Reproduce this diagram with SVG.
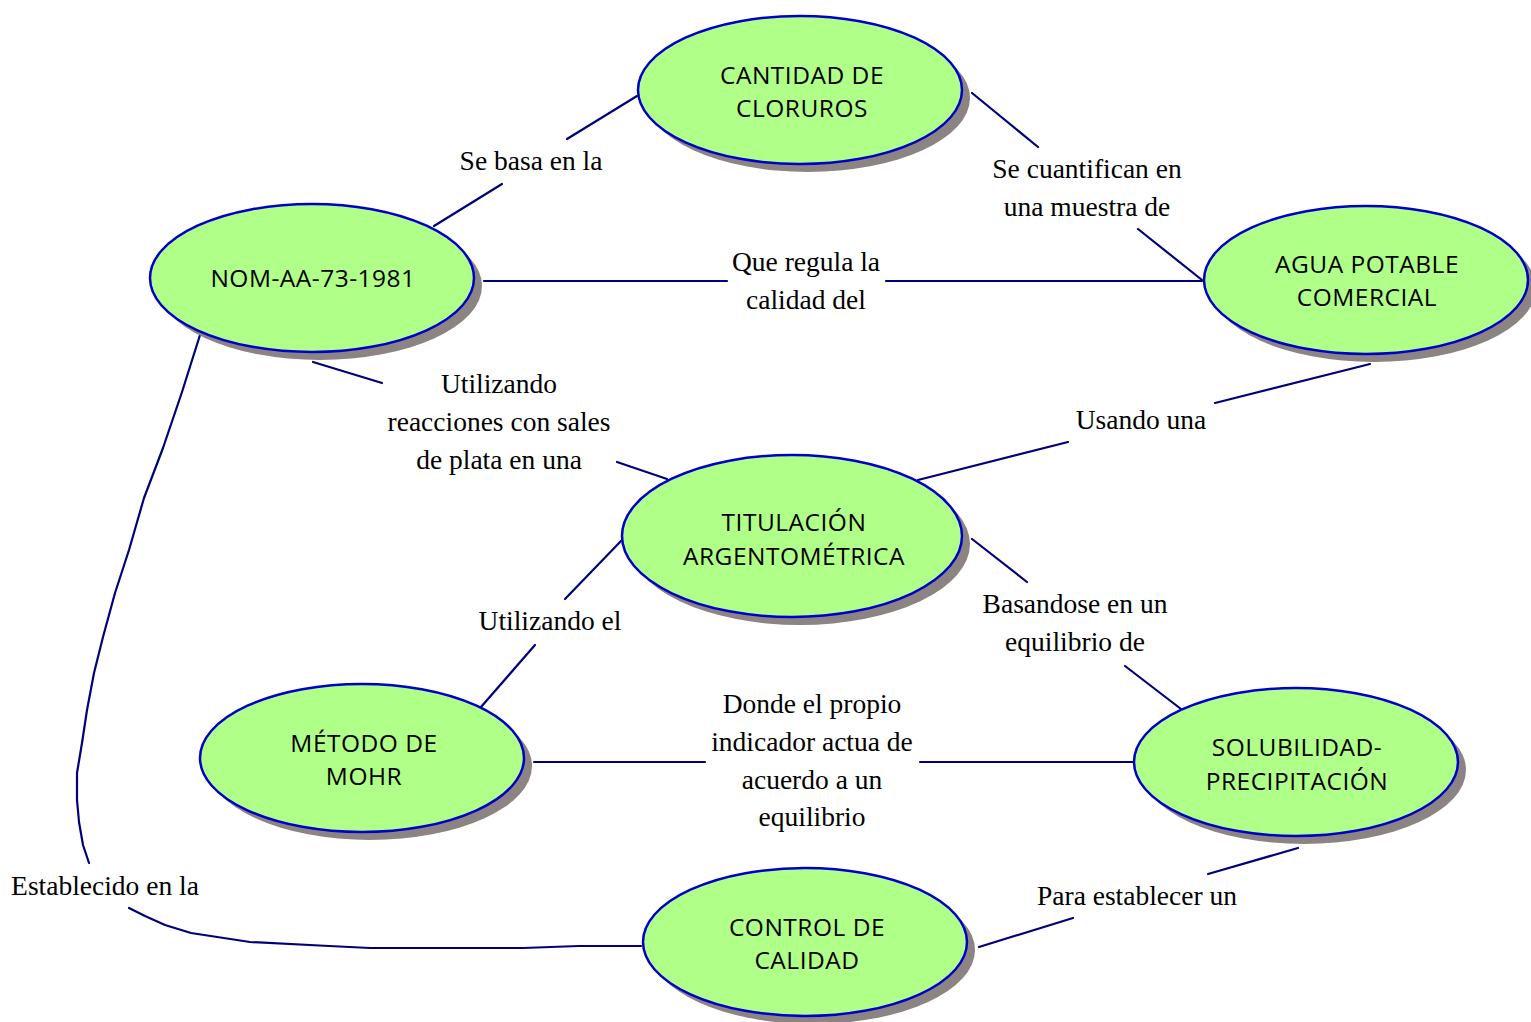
<svg xmlns="http://www.w3.org/2000/svg" width="1531" height="1022" viewBox="0 0 1531 1022">
  <style>
    .shadow { fill: #8c8383; }
    .node { fill: #b0ff88; stroke: #0000cc; stroke-width: 2.5; }
    .ntext { font-family: "Open Sans", "Noto Sans", sans-serif; font-size: 24.5px; letter-spacing: 0.5px; fill: #000; text-anchor: middle; }
    .link { fill: none; stroke: #00007a; stroke-width: 2.2; stroke-linecap: round; stroke-linejoin: round; }
    .label { font-family: "Liberation Serif", "Times New Roman", serif; font-size: 27.5px; fill: #000; text-anchor: middle; }
  </style>

  <!-- connectors, split around their labels -->
  <g id="connectors">
    <polyline class="link" points="434,226 502,184"/>
    <polyline class="link" points="567,139 637,96"/>
    <polyline class="link" points="972,93 1038,147"/>
    <polyline class="link" points="1138,229 1202,280"/>
    <polyline class="link" points="484,281 727,281"/>
    <polyline class="link" points="886,281 1202,281"/>
    <polyline class="link" points="313,362 382,383"/>
    <polyline class="link" points="617,462 667,479"/>
    <polyline class="link" points="1370,364 1215,403"/>
    <polyline class="link" points="1068,442 918,480"/>
    <polyline class="link" points="621,541 565,599"/>
    <polyline class="link" points="535,645 481,707"/>
    <polyline class="link" points="972,539 1027,582"/>
    <polyline class="link" points="1125,666 1181,709"/>
    <polyline class="link" points="534,762 705,762"/>
    <polyline class="link" points="920,762 1133,762"/>
    <polyline class="link" points="1298,848 1208,874"/>
    <polyline class="link" points="1073,918 979,947"/>
    <polyline class="link" points="200,335 182,392 163,448 144,498 129,550 115,593 103,637 94,673 87,710 82,743 77,773 77,800 79,822 83,845 89,863"/>
    <polyline class="link" points="129,908 145,916 165,925 191,933 250,942 329,946 370,948 523,948 579,946 641,946"/>
  </g>

  <!-- connector labels -->
  <g id="labels">
    <text class="label" x="531" y="170">Se basa en la</text>
    <text class="label" x="1087" y="178">Se cuantifican en</text>
    <text class="label" x="1087" y="216">una muestra de</text>
    <text class="label" x="806" y="271">Que regula la</text>
    <text class="label" x="806" y="309">calidad del</text>
    <text class="label" x="499" y="393">Utilizando</text>
    <text class="label" x="499" y="431">reacciones con sales</text>
    <text class="label" x="499" y="469">de plata en una</text>
    <text class="label" x="1141" y="429">Usando una</text>
    <text class="label" x="550" y="630">Utilizando el</text>
    <text class="label" x="1075" y="613">Basandose en un</text>
    <text class="label" x="1075" y="651">equilibrio de</text>
    <text class="label" x="812" y="713">Donde el propio</text>
    <text class="label" x="812" y="751">indicador actua de</text>
    <text class="label" x="812" y="789">acuerdo a un</text>
    <text class="label" x="812" y="826">equilibrio</text>
    <text class="label" x="105" y="895">Establecido en la</text>
    <text class="label" x="1137" y="905">Para establecer un</text>
  </g>

  <g id="node-cantidad">
    <ellipse class="shadow" cx="808" cy="98" rx="162" ry="74"/>
    <ellipse class="node" cx="800" cy="90" rx="162" ry="74"/>
    <text class="ntext" x="802" y="84">CANTIDAD DE</text>
    <text class="ntext" x="802" y="117">CLORUROS</text>
  </g>

  <g id="node-nom">
    <ellipse class="shadow" cx="320" cy="286" rx="162" ry="74"/>
    <ellipse class="node" cx="312" cy="278" rx="162" ry="74"/>
    <text class="ntext" x="313" y="287">NOM-AA-73-1981</text>
  </g>

  <g id="node-agua">
    <ellipse class="shadow" cx="1374" cy="288" rx="162" ry="74"/>
    <ellipse class="node" cx="1366" cy="280" rx="162" ry="74"/>
    <text class="ntext" x="1367" y="273">AGUA POTABLE</text>
    <text class="ntext" x="1367" y="306">COMERCIAL</text>
  </g>

  <g id="node-titulacion">
    <ellipse class="shadow" cx="800" cy="544" rx="170" ry="81"/>
    <ellipse class="node" cx="792" cy="536" rx="170" ry="81"/>
    <text class="ntext" x="794" y="531">TITULACIÓN</text>
    <text class="ntext" x="794" y="565">ARGENTOMÉTRICA</text>
  </g>

  <g id="node-mohr">
    <ellipse class="shadow" cx="370" cy="766" rx="162" ry="74"/>
    <ellipse class="node" cx="362" cy="758" rx="162" ry="74"/>
    <text class="ntext" x="364" y="752">MÉTODO DE</text>
    <text class="ntext" x="364" y="785">MOHR</text>
  </g>

  <g id="node-solubilidad">
    <ellipse class="shadow" cx="1304" cy="770" rx="162" ry="74"/>
    <ellipse class="node" cx="1296" cy="762" rx="162" ry="74"/>
    <text class="ntext" x="1297" y="756">SOLUBILIDAD-</text>
    <text class="ntext" x="1297" y="790">PRECIPITACIÓN</text>
  </g>

  <g id="node-control">
    <ellipse class="shadow" cx="813" cy="950" rx="162" ry="74"/>
    <ellipse class="node" cx="805" cy="942" rx="162" ry="74"/>
    <text class="ntext" x="807" y="936">CONTROL DE</text>
    <text class="ntext" x="807" y="969">CALIDAD</text>
  </g>
</svg>
